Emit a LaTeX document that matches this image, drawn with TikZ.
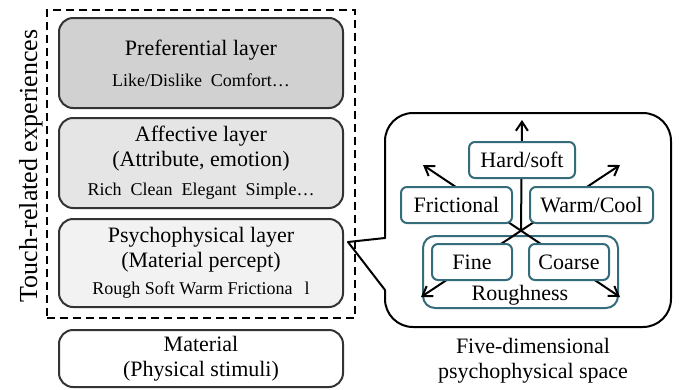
\documentclass[tikz,border=0pt]{standalone}
\usepackage{fontspec}
\setmainfont{Liberation Serif}
\usetikzlibrary{arrows.meta, positioning, calc}

\definecolor{dimteal}{RGB}{52,108,124}
\newcommand{\smalltxt}[1]{{\fontsize{18}{25}\selectfont #1}}

\tikzset{
  barb/.tip={Straight Barb[length=9pt,width=12pt,line width=2pt]},
  layer/.style={draw=black!80, line width=2pt, rounded corners=14pt,
                minimum width=284pt, align=center,
                font=\fontsize{22}{25}\selectfont},
  dimbox/.style={draw=dimteal, fill=white, line width=2pt, rounded corners=6pt,
                 minimum height=36pt, inner sep=0pt,
                 font=\fontsize{22}{25}\selectfont},
  axis/.style={line width=2pt, -barb},
}

\begin{document}
\begin{tikzpicture}[x=1pt, y=-1pt]
\useasboundingbox (0,0) rectangle (686,389);

% the layers, top to bottom
\node[layer, fill=black!18, minimum height=90pt] (pref) at (201,63)
  {Preferential layer\\[6pt]\smalltxt{Like/Dislike~~Comfort…}};
\node[layer, fill=black!10, minimum height=90pt] (aff) at (201,163)
  {Affective layer\\(Attribute, emotion)\\[4pt]\smalltxt{Rich~~Clean~~Elegant~~Simple…}};
\node[layer, fill=black!5, minimum height=88pt] (psy) at (201,263)
  {Psychophysical layer\\(Material percept)\\[2pt]\smalltxt{Rough Soft Warm Frictiona\hspace{12pt}l}};
\node[layer, minimum height=57pt] (mat) at (201,358.5)
  {Material\\(Physical stimuli)};

% dashed frame round the three upper layers
\node[draw, line width=2.7pt, dash pattern=on 8pt off 5pt,
      minimum width=308pt, minimum height=308pt] (frame) at (201,164) {};
\node[rotate=90, anchor=base, font=\fontsize{26}{30}\selectfont] (touch) at (37,166)
  {Touch-related experiences};

% the callout
\coordinate (tip) at (348,242);
\draw[line width=2pt, line cap=round, line join=round] (385,238) -- (tip) -- (385,290);
\draw[line width=2pt, line cap=round, rounded corners=28pt] (385,290) -- (385,327)
  -- (671,327) -- (671,113) -- (385,113) -- (385,238);

\node[dimbox, minimum width=195pt, minimum height=72pt, rounded corners=12pt] (rough) at (520.5,272) {};
\node[anchor=base, font=\fontsize{22}{25}\selectfont] (roughtxt) at (520,300) {Roughness};

% the five axes
\coordinate (o)  at (521,231);
\coordinate (up) at (522,120);
\coordinate (ul) at (423,165);
\coordinate (ur) at (620,165);
\coordinate (dl) at (421,297);
\coordinate (dr) at (620,297);
\foreach \a/\b in {dl/ur, dr/ul}
  \draw[axis, barb-barb] (\a) -- (\b);
\draw[axis] (o) -- (up);

\node[dimbox, minimum width=80pt]  (fine)   at (472,262)   {Fine};
\node[dimbox, minimum width=80pt]  (coarse) at (569,262)   {Coarse};
\node[dimbox, minimum width=111pt] (fric)   at (456.5,205) {Frictional};
\node[dimbox, minimum width=123pt] (warm)   at (591.5,205) {Warm/Cool};
\node[dimbox, minimum width=106pt] (hard)   at (522,160)   {Hard/soft};

\node[align=center, font=\fontsize{22}{25}\selectfont] (cap) at (533,360.5)
  {Five-dimensional\\psychophysical space};
\end{tikzpicture}
\end{document}
